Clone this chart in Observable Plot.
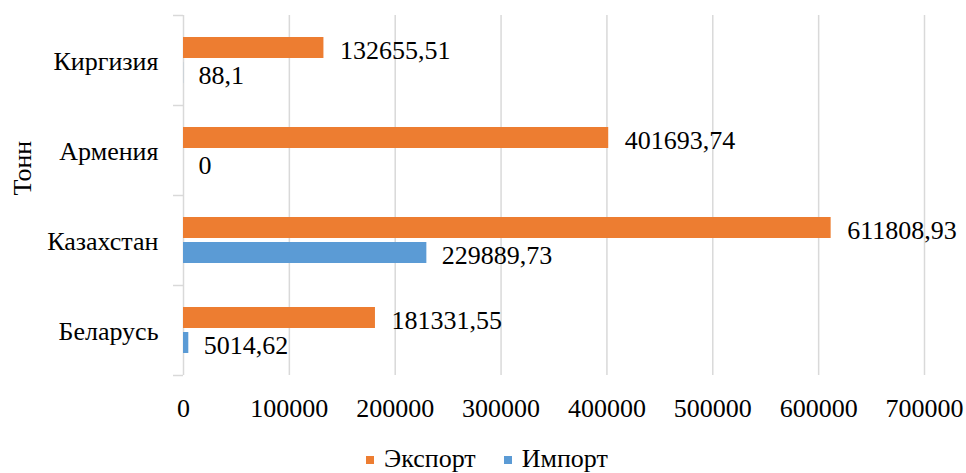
<!DOCTYPE html>
<html>
<head>
<meta charset="utf-8">
<script src="https://cdn.jsdelivr.net/npm/d3@7"></script>
<script src="https://cdn.jsdelivr.net/npm/@observablehq/plot@0.6"></script>
<style>
  html, body { margin: 0; padding: 0; background: #fff; overflow: hidden; }
  #wrap { width: 966px; height: 473px; overflow: hidden; }
  #wrap, #wrap * { font-family: 'Liberation Serif', serif !important; }
  #legend { height: 28px; display: flex; justify-content: center; align-items: flex-start; font-size: 26px; color: #000; padding-top: 0px; line-height: 28px; padding-left: 8px; }
  .item { display: flex; align-items: center; margin: 0 14px; }
  .sw { width: 8px; height: 8px; margin-right: 10px; margin-top: 2px; }
</style>
</head>
<body>
<div id="wrap"><div id="chart"></div><div id="legend"></div></div>
<script>
const countries = ["Киргизия", "Армения", "Казахстан", "Беларусь"];
const exportValues = [132655.51, 401693.74, 611808.93, 181331.55];
const importValues = [88.1, 0, 229889.73, 5014.62];
const seriesNames = ["Экспорт", "Импорт"];
const seriesColors = ["#ED7D31", "#5B9BD5"];
const xTicks = [0, 100000, 200000, 300000, 400000, 500000, 600000, 700000];
const axisTitle = "Тонн";

const exportData = countries.map((c, i) => ({country: c, value: exportValues[i]}));
const importData = countries.map((c, i) => ({country: c, value: importValues[i]}));
const fmt = v => String(v).replace(".", ",");

const height = 445, marginTop = 15, marginBottom = 70;
const step = (height - marginTop - marginBottom) / countries.length;

const chart = Plot.plot({
  width: 966,
  height,
  marginLeft: 183,
  marginRight: 42,
  marginTop,
  marginBottom,
  x: {domain: [0, 700000]},
  y: {domain: countries, padding: 0},
  style: {fontFamily: "'Liberation Serif', serif", fontSize: "26px", color: "#000", background: "#fff"},
  marks: [
    Plot.gridX(xTicks.slice(1), {stroke: "#d9d9d9", strokeOpacity: 1, strokeWidth: 1.5}),
    Plot.ruleX([0], {stroke: "#d9d9d9", strokeWidth: 1.5}),
    Plot.ruleY(countries, {y: d => d, dy: -step / 2, x1: 0, x2: 0, insetLeft: -10, stroke: "#d9d9d9", strokeWidth: 1.5}),
    Plot.ruleY(countries.slice(-1), {y: d => d, dy: step / 2, x1: 0, x2: 0, insetLeft: -10, stroke: "#d9d9d9", strokeWidth: 1.5}),
    Plot.barX(exportData, {x: "value", y: "country", fill: seriesColors[0], insetTop: 22, insetBottom: 47}),
    Plot.barX(importData, {x: "value", y: "country", fill: seriesColors[1], insetTop: 47, insetBottom: 22}),
    Plot.text(exportData, {x: "value", y: "country", text: d => fmt(d.value), textAnchor: "start", dx: 16, dy: -10, fontSize: 26, fill: "#000"}),
    Plot.text(importData, {x: "value", y: "country", text: d => fmt(d.value), textAnchor: "start", dx: 15, dy: 15, fontSize: 26, fill: "#000"}),
    Plot.axisX({ticks: xTicks, tickSize: 0, tickPadding: 23, tickFormat: d => String(d), fontSize: 26, label: null, fill: "#000"}),
    Plot.axisY({tickSize: 0, tickPadding: 25, fontSize: 26, label: null, fill: "#000", dy: 1}),
    Plot.text([axisTitle], {frameAnchor: "left", text: d => d, rotate: -90, dx: -161, fontSize: 26, fill: "#000"})
  ]
});
document.getElementById("chart").appendChild(chart);

const legend = document.getElementById("legend");
seriesNames.forEach((name, i) => {
  const item = document.createElement("div");
  item.className = "item";
  const sw = document.createElement("div");
  sw.className = "sw";
  sw.style.background = seriesColors[i];
  const label = document.createElement("span");
  label.textContent = name;
  item.appendChild(sw);
  item.appendChild(label);
  legend.appendChild(item);
});
</script>
</body>
</html>
